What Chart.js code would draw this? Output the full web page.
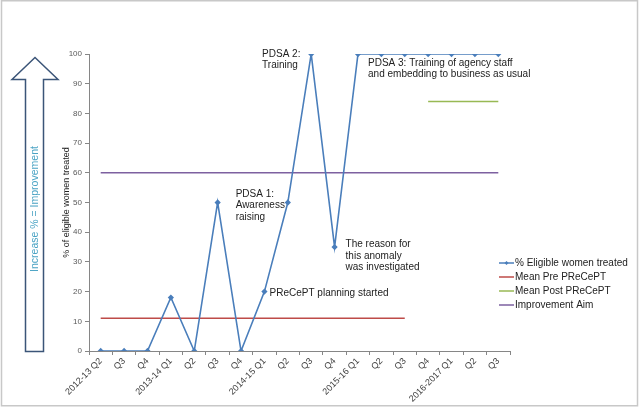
<!DOCTYPE html>
<html>
<head>
<meta charset="utf-8">
<script src="https://cdn.jsdelivr.net/npm/chart.js@4.4.1/dist/chart.umd.min.js"></script>
<style>
html,body{margin:0;padding:0;background:#fff;}
#wrap{width:640px;height:407px;position:relative;}
</style>
</head>
<body>
<div id="wrap"><canvas id="c" width="640" height="407"></canvas></div>
<script>
const categories = ["2012-13 Q2","Q3","Q4","2013-14 Q1","Q2","Q3","Q4","2014-15 Q1","Q2","Q3","Q4","2015-16 Q1","Q2","Q3","Q4","2016-2017 Q1","Q2","Q3"];
const eligibleTreated = [0,0,0,18,0,50,0,20,50,100,35,100,100,100,100,100,100,100];
const meanPre = [11,11,11,11,11,11,11,11,11,11,11,11,11,11,null,null,null,null];
const meanPost = [null,null,null,null,null,null,null,null,null,null,null,null,null,null,84,84,84,84];
const improvementAim = [60,60,60,60,60,60,60,60,60,60,60,60,60,60,60,60,60,60];
const yTicks = {min:0, max:100, step:10};
// annotations: [text lines, category index anchor, value anchor]
const annotations = [
  {lines:["PDSA 1:","Awareness","raising"], idx:5.77, val:52.8},
  {lines:["PDSA 2:","Training"], idx:6.9, val:100},
  {lines:["PDSA 3: Training of agency staff","and embedding to business as usual"], idx:11.43, val:97},
  {lines:["The reason for","this anomaly","was investigated"], idx:10.47, val:35.8},
  {lines:["PReCePT planning started"], idx:7.22, val:19.6}
];

const decor = {
  id:'decor',
  beforeDraw(chart){
    const ctx = chart.ctx;
    ctx.save();
    ctx.fillStyle='#fff';
    ctx.fillRect(0,0,chart.width,chart.height);
    ctx.strokeStyle='#c8c8c8';
    ctx.lineWidth=1.5;
    ctx.strokeRect(1.5,0.75,636,405);
    ctx.restore();
  },
  afterDraw(chart){
    const ctx = chart.ctx;
    const xs = chart.scales.x, ys = chart.scales.y;
    ctx.save();
    // big arrow
    ctx.beginPath();
    ctx.moveTo(35,57.5);
    ctx.lineTo(58,79.5);
    ctx.lineTo(43.5,79.5);
    ctx.lineTo(43.5,351.5);
    ctx.lineTo(25.5,351.5);
    ctx.lineTo(25.5,79.5);
    ctx.lineTo(12,79.5);
    ctx.closePath();
    ctx.fillStyle='#fff';
    ctx.fill();
    ctx.strokeStyle='#3b5578';
    ctx.lineWidth=1.5;
    ctx.stroke();
    ctx.translate(35,209);
    ctx.rotate(-Math.PI/2);
    ctx.fillStyle='#4aa3c4';
    ctx.font='10.5px "Liberation Sans", Arial, sans-serif';
    ctx.textAlign='center';
    ctx.textBaseline='middle';
    ctx.fillText('Increase % = Improvement',0,0);
    ctx.restore();

    // annotations
    ctx.save();
    ctx.fillStyle='#222';
    ctx.font='10px "Liberation Sans", Arial, sans-serif';
    ctx.textBaseline='middle';
    ctx.textAlign='left';
    const step = xs.getPixelForValue(1)-xs.getPixelForValue(0);
    annotations.forEach(a=>{
      const x = xs.getPixelForValue(0) + a.idx*step;
      const y = ys.getPixelForValue(a.val);
      a.lines.forEach((l,i)=>ctx.fillText(l,x,y+i*11.5));
    });
    ctx.restore();

    // legend
    ctx.save();
    ctx.font='10px "Liberation Sans", Arial, sans-serif';
    ctx.textBaseline='middle';
    chart.data.datasets.forEach((ds,i)=>{
      const y = 263 + i*14;
      ctx.strokeStyle=ds.borderColor;
      ctx.lineWidth=1.5;
      ctx.beginPath();ctx.moveTo(499,y);ctx.lineTo(514,y);ctx.stroke();
      if(ds.pointRadius>0){
        ctx.fillStyle=ds.borderColor;
        ctx.beginPath();
        ctx.moveTo(506.5,y-2);ctx.lineTo(508.5,y);ctx.lineTo(506.5,y+2);ctx.lineTo(504.5,y);ctx.closePath();ctx.fill();
      }
      ctx.fillStyle='#222';
      ctx.fillText(ds.label,515,y);
    });
    ctx.restore();
  }
};

new Chart(document.getElementById('c'),{
  type:'line',
  data:{
    labels:categories,
    datasets:[
      {label:'% Eligible women treated',data:eligibleTreated,borderColor:'#4a7ebb',backgroundColor:'#4a7ebb',borderWidth:1.6,pointRadius:2,pointStyle:'rectRot',tension:0},
      {label:'Mean Pre PReCePT',data:meanPre,borderColor:'#be4b48',borderWidth:1.5,pointRadius:0},
      {label:'Mean Post PReCePT',data:meanPost,borderColor:'#98b954',borderWidth:1.5,pointRadius:0},
      {label:'Improvement Aim',data:improvementAim,borderColor:'#7d60a0',borderWidth:1.5,pointRadius:0}
    ]
  },
  options:{
    responsive:false,
    animation:false,
    layout:{padding:{left:61,right:130,top:54,bottom:0}},
    plugins:{legend:{display:false},tooltip:{enabled:false}},
    scales:{
      x:{
        offset:true,
        grid:{offset:true,drawOnChartArea:false,tickLength:4,color:'#868686'},
        border:{color:'#868686'},
        ticks:{autoSkip:false,maxRotation:45,minRotation:45,color:'#404040',font:{size:9,family:'"Liberation Sans", Arial, sans-serif'},padding:1},
        afterFit(s){s.height=56;}
      },
      y:{
        min:yTicks.min,max:yTicks.max,
        grid:{drawOnChartArea:false,tickLength:4,color:'#868686'},
        border:{color:'#868686'},
        ticks:{stepSize:yTicks.step,color:'#595959',font:{size:8,family:'"Liberation Sans", Arial, sans-serif'},padding:3},
        title:{display:true,text:'% of eligible women treated',color:'#222',font:{size:9,family:'"Liberation Sans", Arial, sans-serif'},padding:{top:0,bottom:0}},
        afterFit(s){s.width=28;}
      }
    }
  },
  plugins:[decor]
});
</script>
</body>
</html>
